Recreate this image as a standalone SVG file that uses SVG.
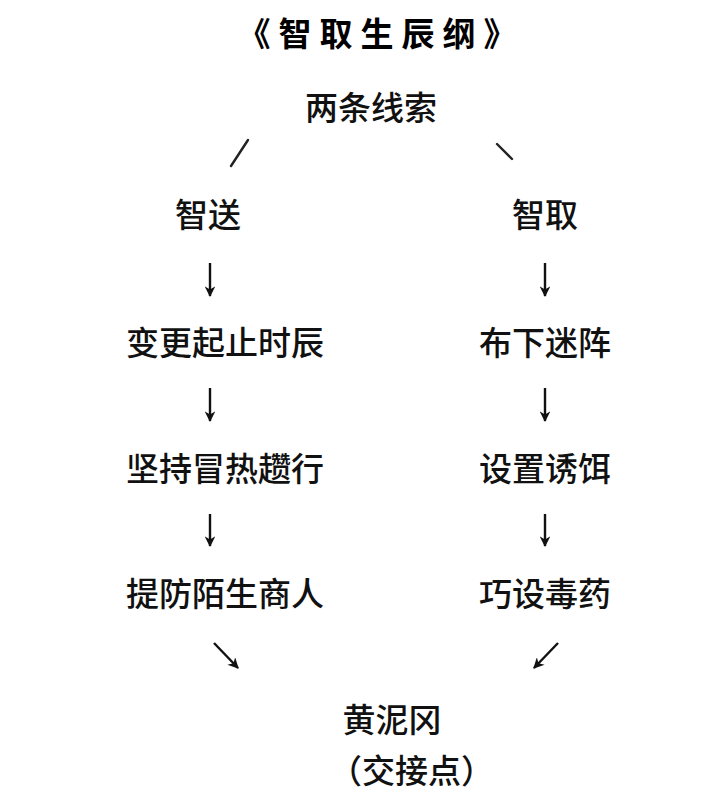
<svg xmlns="http://www.w3.org/2000/svg" width="718" height="801" viewBox="0 0 718 801">
<style>
.t{font-family:"Noto Sans CJK SC","Noto Sans",sans-serif;font-size:33px;font-weight:500;fill:#111;text-anchor:middle}
.title{font-family:"Noto Sans CJK SC","Noto Sans",sans-serif;font-size:33px;font-weight:bold;fill:#000;text-anchor:middle;letter-spacing:8px}
.c{stroke:#111;stroke-width:2.4;fill:none}
.s{stroke:#222;stroke-width:2.4;fill:none;stroke-linecap:round}
</style>
<defs>
<marker id="ah" viewBox="0 0 10 10" refX="9" refY="5" markerWidth="5" markerHeight="4.5" orient="auto" markerUnits="strokeWidth">
<path d="M0,0 L10,5 L0,10 L3,5 Z" fill="#111"/>
</marker>
</defs>
<rect width="718" height="801" fill="#fff"/>
<g id="title"><text class="title" x="381" y="46">《智取生辰纲》</text></g>
<g id="n_root"><text class="t" x="371" y="120">两条线索</text></g>
<g id="n_zhisong"><text class="t" x="208" y="227">智送</text></g>
<g id="n_zhiqu"><text class="t" x="545" y="227">智取</text></g>
<g id="n_l1"><text class="t" x="225" y="355">变更起止时辰</text></g>
<g id="n_l2"><text class="t" x="225" y="481">坚持冒热趱行</text></g>
<g id="n_l3"><text class="t" x="225" y="606">提防陌生商人</text></g>
<g id="n_r1"><text class="t" x="545" y="355">布下迷阵</text></g>
<g id="n_r2"><text class="t" x="545" y="481">设置诱饵</text></g>
<g id="n_r3"><text class="t" x="545" y="606">巧设毒药</text></g>
<g id="n_end"><text class="t" x="392" y="732">黄泥冈</text>
<text class="t" x="329" y="783" style="text-anchor:start">（交接点）</text></g>
<g id="connectors">
<line class="s" x1="231" y1="166" x2="248" y2="140"/>
<line class="s" x1="497" y1="144" x2="512" y2="159"/>
<line class="c" x1="210" y1="263" x2="210" y2="296" marker-end="url(#ah)"/>
<line class="c" x1="545" y1="263" x2="545" y2="296" marker-end="url(#ah)"/>
<line class="c" x1="210" y1="388" x2="210" y2="421" marker-end="url(#ah)"/>
<line class="c" x1="545" y1="388" x2="545" y2="421" marker-end="url(#ah)"/>
<line class="c" x1="210" y1="514" x2="210" y2="546" marker-end="url(#ah)"/>
<line class="c" x1="545" y1="514" x2="545" y2="546" marker-end="url(#ah)"/>
<line class="c" x1="214" y1="643" x2="238" y2="668" marker-end="url(#ah)"/>
<line class="c" x1="558" y1="643" x2="534" y2="668" marker-end="url(#ah)"/>
</g>
</svg>
